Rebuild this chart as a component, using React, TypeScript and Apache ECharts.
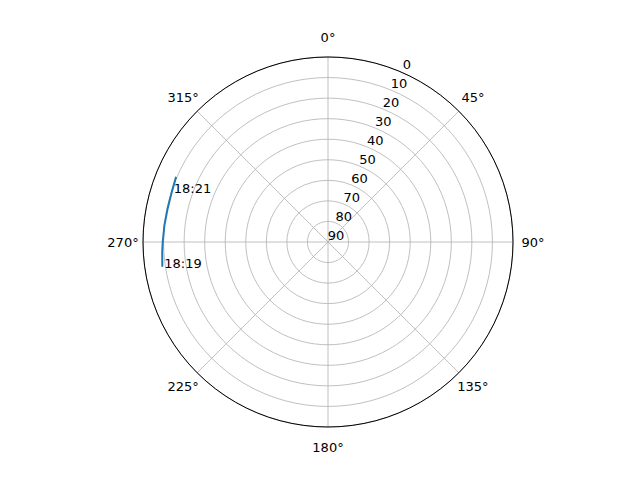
import { useEffect, useRef } from 'react';
import * as echarts from 'echarts';

// pass track: azimuth (deg, clockwise from north) and elevation (deg)
const trackAz = [261.5, 266.5, 270, 275.8, 281.7, 287.7, 293.2];
const trackEl = [8.5, 9.2, 9.6, 10.0, 10.3, 10.2, 9.6];

// time marks along the track
const timeNames = ['18:19', '18:21'];
const timeAz = [261.5, 287.7];
const timeEl = [8.5, 10.2];

const elevTicks = [0, 10, 20, 30, 40, 50, 60, 70, 80, 90];
const azTicks = [0, 45, 90, 135, 180, 225, 270, 315];
const rLabelAngle = 22.5;

const FONT = 'DejaVu Sans';

const App: React.FC = () => {
  const divRef = useRef<HTMLDivElement | null>(null);

  useEffect(() => {
    if (!divRef.current) return;
    const chart = echarts.init(divRef.current, null, { renderer: 'svg' });

    const angleBase = {
      type: 'value',
      min: 0,
      max: 360,
      interval: 45,
      startAngle: 90,
      clockwise: true,
    };

    const option = {
      animation: false,
      backgroundColor: '#ffffff',
      polar: [
        { center: [328, 242], radius: 185 },
        // ring used only to place the azimuth labels, centred like matplotlib
        { center: [328, 242], radius: 205 },
      ],
      angleAxis: [
        {
          ...angleBase,
          polarIndex: 0,
          axisLine: { lineStyle: { color: '#000000', width: 1 } },
          axisTick: { show: false },
          axisLabel: { show: false },
          splitLine: { show: true, lineStyle: { color: '#b0b0b0', width: 0.8 } },
        },
        {
          ...angleBase,
          polarIndex: 1,
          axisLine: { show: false },
          axisTick: { show: false },
          axisLabel: { show: false },
          splitLine: { show: false },
        },
      ],
      radiusAxis: [
        {
          type: 'value',
          polarIndex: 0,
          min: 0,
          max: 90,
          interval: 10,
          inverse: true,
          axisLine: { show: false },
          axisTick: { show: false },
          axisLabel: { show: false },
          splitLine: { show: true, lineStyle: { color: '#b0b0b0', width: 0.8 } },
        },
        {
          type: 'value',
          polarIndex: 1,
          min: 0,
          max: 1,
          axisLine: { show: false },
          axisTick: { show: false },
          axisLabel: { show: false },
          splitLine: { show: false },
        },
      ],
      series: [
        {
          type: 'scatter',
          coordinateSystem: 'polar',
          polarIndex: 1,
          symbolSize: 0,
          silent: true,
          itemStyle: { opacity: 1 },
          data: azTicks.map((a) => [1, a]),
          label: {
            show: true,
            position: 'inside',
            align: 'center',
            verticalAlign: 'middle',
            color: '#000000',
            fontSize: 13,
            fontFamily: FONT,
            formatter: (p: any) => p.value[1] + '°',
          },
        },
        {
          type: 'scatter',
          coordinateSystem: 'polar',
          polarIndex: 0,
          symbolSize: 0,
          silent: true,
          itemStyle: { opacity: 1 },
          data: elevTicks.map((e) => [e, rLabelAngle]),
          label: {
            show: true,
            position: 'inside',
            offset: [8, -7],
            color: '#000000',
            fontSize: 13,
            fontFamily: FONT,
            formatter: (p: any) => String(p.value[0]),
          },
        },
        {
          type: 'line',
          coordinateSystem: 'polar',
          polarIndex: 0,
          showSymbol: false,
          symbol: 'none',
          data: trackAz.map((a, i) => [trackEl[i], a]),
          lineStyle: { color: '#1f77b4', width: 2 },
        },
        {
          type: 'scatter',
          coordinateSystem: 'polar',
          polarIndex: 0,
          symbolSize: 0,
          silent: true,
          itemStyle: { opacity: 1 },
          data: timeNames.map((n, i) => ({ name: n, value: [timeEl[i], timeAz[i]] })),
          label: {
            show: true,
            position: [2, 3],
            align: 'left',
            verticalAlign: 'bottom',
            color: '#000000',
            fontSize: 13,
            fontFamily: FONT,
            formatter: (p: any) => p.name,
          },
        },
      ],
    };
    chart.setOption(option);

    return () => chart.dispose();
  }, []);

  return (
    <div
      ref={divRef}
      style={{ position: 'fixed', left: 0, top: 0, width: 640, height: 480 }}
    />
  );
};

export default App;
